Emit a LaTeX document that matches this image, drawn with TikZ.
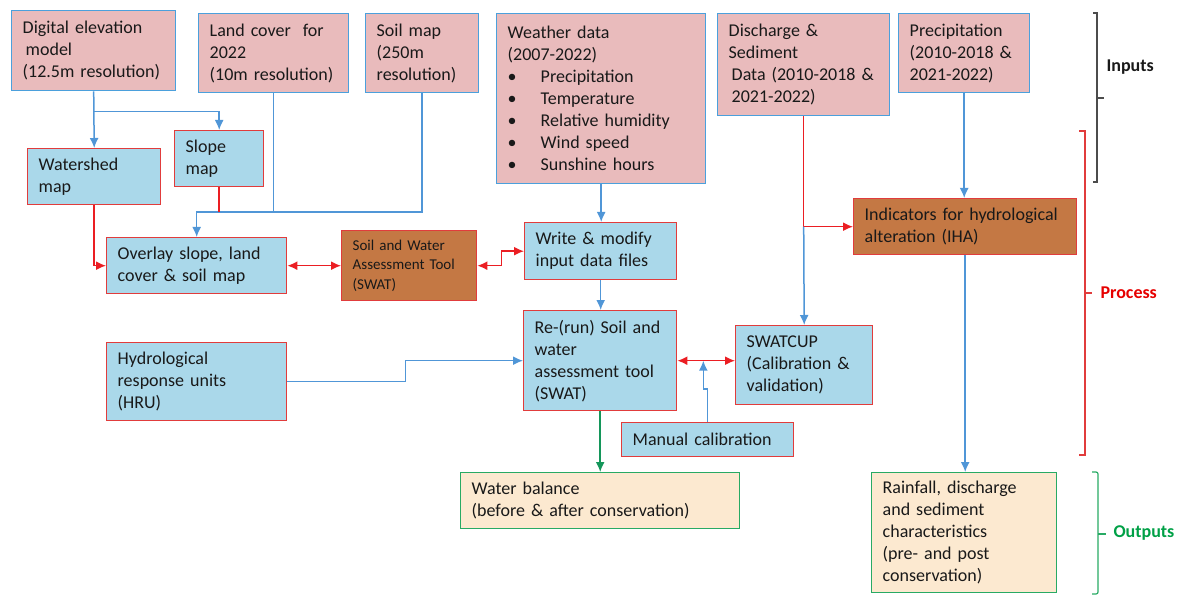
\documentclass[tikz,border=0pt]{standalone}
\usepackage{fontspec}
\setmainfont{Carlito}
\usetikzlibrary{arrows.meta}
\usetikzlibrary{calc}
\definecolor{inblue}{RGB}{75,160,220}
\definecolor{inpink}{RGB}{233,187,188}
\definecolor{water}{RGB}{170,216,234}
\definecolor{boxred}{RGB}{225,60,60}
\definecolor{wood}{RGB}{196,120,68}
\definecolor{outbeige}{RGB}{252,233,208}
\definecolor{outgreen}{RGB}{40,170,100}
\definecolor{linkblue}{RGB}{80,150,215}
\definecolor{linkred}{RGB}{235,30,35}
\definecolor{linkgreen}{RGB}{20,150,90}
\definecolor{procred}{RGB}{230,0,0}
\definecolor{outtext}{RGB}{0,160,70}

\begin{document}
\begin{tikzpicture}[x=1pt,y=-1pt,>={Latex[length=10pt,width=9pt]},
  box/.style={draw,line width=1.4pt,anchor=north west,inner xsep=11pt,inner ysep=0pt,
    align=left,text=black!90,font=\fontsize{18}{22}\selectfont},
  inbox/.style={box,draw=inblue,fill=inpink},
  waterbox/.style={box,draw=boxred,fill=water},
  woodbox/.style={box,draw=boxred,fill=wood},
  outbox/.style={box,draw=outgreen,fill=outbeige},
  bluelink/.style={draw=linkblue,line width=1.5pt},
  redlink/.style={draw=linkred,line width=1.5pt},
  greenlink/.style={draw=linkgreen,line width=1.5pt},
  sidelabel/.style={anchor=west,font=\bfseries\fontsize{18}{22}\selectfont}]
\useasboundingbox (0,0) rectangle (1178,596);

% inputs
\node[inbox,text width=142pt,minimum height=80pt] (dem) at (11,10) {Digital elevation\\\hspace{3pt}model\\(12.5m resolution)};
\node[inbox,text width=128pt,minimum height=79pt] (land) at (198,13) {Land cover\ \ for\\2022\\(10m resolution)};
\node[inbox,text width=91pt,minimum height=79pt] (soil) at (365,13) {Soil map\\(250m\\resolution)};
\node[inbox,text width=187pt,minimum height=170pt] (weather) at (496,13) {Weather data\\(2007-2022)\\
  \makebox[33pt][l]{\textbullet}Precipitation\\\makebox[33pt][l]{\textbullet}Temperature\\
  \makebox[33pt][l]{\textbullet}Relative humidity\\\makebox[33pt][l]{\textbullet}Wind speed\\
  \makebox[33pt][l]{\textbullet}Sunshine hours};
\node[inbox,text width=150pt,minimum height=102pt] (dis) at (717,13) {Discharge \&\\Sediment\\\hspace{3pt}Data (2010-2018 \&\\\hspace{3pt}2021-2022)};
\node[inbox,text width=109pt,minimum height=79pt] (precip) at (898,13) {Precipitation\\(2010-2018 \&\\2021-2022)};

% process
\node[waterbox,text width=111pt,minimum height=56pt] (ws) at (27,148) {Watershed\\map};
\node[waterbox,text width=67pt,minimum height=56pt] (slope) at (174,130) {Slope\\map};
\node[waterbox,text width=158pt,minimum height=56pt] (overlay) at (106,237) {Overlay slope, land\\cover \& soil map};
\node[woodbox,text width=113pt,minimum height=70pt,font=\fontsize{15}{19.5}\selectfont] (swat) at (341,230) {Soil and Water\\Assessment Tool\\(SWAT)};
\node[waterbox,text width=130pt,minimum height=57pt] (write) at (524,222) {Write \& modify\\input data files};
\node[waterbox,text width=158pt,minimum height=78pt] (hru) at (106,342) {Hydrological\\response units\\(HRU)};
\node[waterbox,text width=131pt,minimum height=100pt] (rerun) at (523,310) {Re-(run) Soil and\\water\\assessment tool\\(SWAT)};
\node[waterbox,text width=115pt,minimum height=79pt] (swatcup) at (735,325) {SWATCUP\\(Calibration \&\\validation)};
\node[waterbox,text width=150pt,minimum height=34pt] (manual) at (621,422) {Manual calibration};
\node[woodbox,text width=201pt,minimum height=56pt] (iha) at (853,198) {Indicators for hydrological\\alteration (IHA)};

% outputs
\node[outbox,text width=257pt,minimum height=56pt] (wbal) at (460,472) {Water balance\\(before \& after conservation)};
\node[outbox,text width=163pt,minimum height=120pt] (rain) at (871,472) {Rainfall, discharge\\and sediment\\characteristics\\(pre- and post\\conservation)};

% connectors
\coordinate (demsplit) at ($(dem.south)+(0,20)$);
\coordinate (mapjoin) at ($(overlay.north)+(0,-25)$);
\draw[bluelink,->] (dem.south) -- (ws.north);
\draw[bluelink,->] (demsplit) -| (slope.north);
\draw[bluelink,->] (land.south) |- (mapjoin) -- (overlay.north);
\draw[bluelink] (soil.south) |- (mapjoin);
\draw[redlink] (slope.south) -- (slope.south |- mapjoin);
\draw[redlink,->] (ws.south) |- (overlay.west);
\draw[redlink,<->] (overlay.east) -- (swat.west);
\draw[redlink,<->] (swat.east) -- ++(24,0) |- (write.west);
\draw[bluelink,->] (weather.south) -- (weather.south |- write.north);
\draw[bluelink,->] (write.south) -- (write.south |- rerun.north);
\draw[bluelink,->] (hru.east) -- ++(118,0) |- (rerun.west);
\coordinate (calib) at ($(rerun.east)!0.45!(rerun.east -| swatcup.west)$);
\draw[redlink,<->] (rerun.east) -- (rerun.east -| swatcup.west);
\draw[bluelink,->] (manual.north) -- ++(0,-33) -| (calib);
\draw[redlink,->] (dis.south) |- (iha.west);
\draw[bluelink,->] (dis.south |- iha.west) -- (swatcup.north);
\draw[bluelink,->] (precip.south) -- (precip.south |- iha.north);
\draw[bluelink,->] (iha.south) -- (iha.south |- rain.north);
\draw[greenlink,->] (rerun.south) -- (rerun.south |- wbal.north);

% brackets
\draw[black!70,line width=1.2pt] (1093,13) -- (1097,13) -- (1097,182) -- (1093,182);
\draw[black!70,line width=1.2pt] (1097,98) -- (1104,98);
\node[sidelabel,text=black!90] (inputs) at (1103,67) {Inputs};
\draw[boxred,line width=1.2pt] (1079,131) -- (1085,131) -- (1085,455) -- (1079,455);
\draw[boxred,line width=1.2pt] (1085,293) -- (1092,293);
\node[sidelabel,text=procred] (process) at (1097,293) {Process};
\draw[outgreen,line width=1.2pt,rounded corners=2pt] (1092,472) -- (1098,472) -- (1098,594) -- (1092,594);
\draw[outgreen,line width=1.2pt] (1098,534) -- (1106,534);
\node[sidelabel,text=outtext] (outputs) at (1110,533) {Outputs};
\end{tikzpicture}
\end{document}
